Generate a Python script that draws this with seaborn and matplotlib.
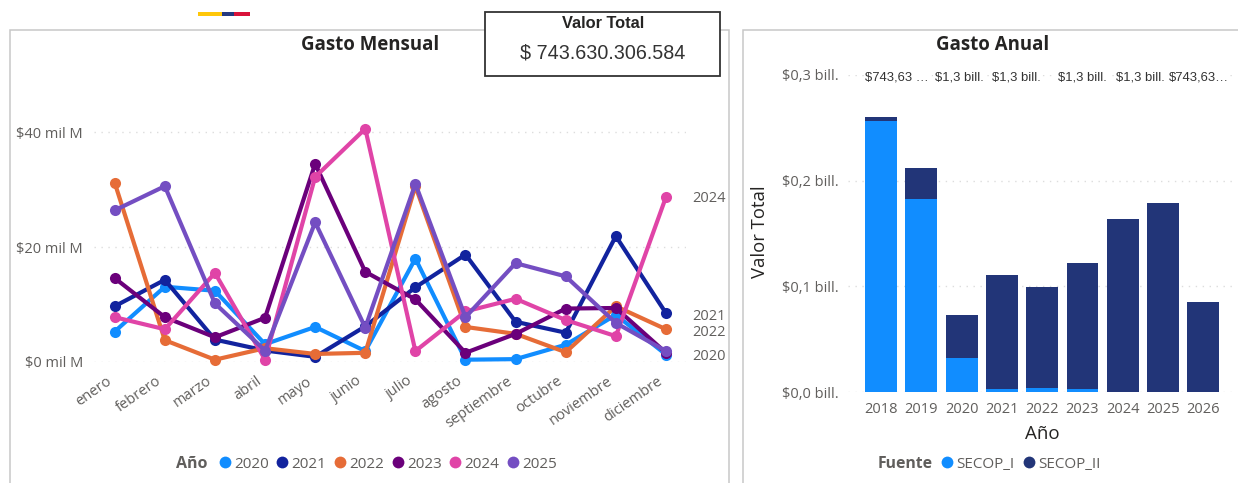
import matplotlib
matplotlib.use("Agg")
import matplotlib.pyplot as plt
from matplotlib.lines import Line2D
from matplotlib.patches import Rectangle
from matplotlib.transforms import ScaledTranslation
import pandas as pd
import seaborn as sns

meses = ['enero', 'febrero', 'marzo', 'abril', 'mayo', 'junio', 'julio', 'agosto',
         'septiembre', 'octubre', 'noviembre', 'diciembre']
gasto_2020 = [5.3, 13.1, 12.4, 3.1, 6.1, 1.9, 18.0, 0.4, 0.5, 3.0, 8.2, 1.3]
gasto_2021 = [9.7, 14.3, 3.9, 2.0, 0.9, 6.2, 13.0, 18.7, 7.0, 5.1, 21.9, 8.5]
gasto_2022 = [31.2, 3.8, 0.4, 2.4, 1.4, 1.6, 30.6, 6.1, 4.9, 1.7, 9.7, 5.7]
gasto_2023 = [14.6, 7.8, 4.3, 7.7, 34.5, 15.7, 10.9, 1.6, 4.9, 9.3, 9.4, 1.6]
gasto_2024 = [7.8, 5.7, 15.5, 0.4, 32.2, 40.6, 1.9, 8.8, 11.0, 7.3, 4.5, 28.7]
gasto_2025 = [26.4, 30.6, 10.2, 2.0, 24.3, 6.0, 31.0, 7.8, 17.2, 14.9, 6.8, 1.9]
anios_linea = ['2020', '2021', '2022', '2023', '2024', '2025']
colores_linea = ['#118DFF', '#12239E', '#E66C37', '#6B007B', '#E044A7', '#744EC2']

anios = ['2018', '2019', '2020', '2021', '2022', '2023', '2024', '2025', '2026']
secop_1 = [0.256, 0.183, 0.032, 0.003, 0.0035, 0.003, 0.0, 0.0, 0.0]
secop_2 = [0.004, 0.029, 0.041, 0.108, 0.0955, 0.119, 0.164, 0.179, 0.085]
etiquetas = ['$743,63 …', '$1,3 bill.', '$1,3 bill.', '$1,3 bill.', '$1,3 bill.', '$743,63…']

W, H = 1238, 483
GRIS = '#605E5C'
sns.set_style("white")
plt.rcParams['font.family'] = ['Open Sans', 'DejaVu Sans']

fig = plt.figure(figsize=(W / 100, H / 100), dpi=100)


def ejes(x0, x1, y0, y1):
    # pixel box, y counted from the top of the picture
    return fig.add_axes([x0 / W, 1 - y1 / H, (x1 - x0) / W, (y1 - y0) / H])


def texto(x, y, s, **kw):
    kw.setdefault('ha', 'center')
    kw.setdefault('va', 'center')
    return fig.text(x / W, 1 - y / H, s, **kw)


def marco(x0, x1, y0, y1, **kw):
    fig.add_artist(Rectangle((x0 / W, 1 - y1 / H), (x1 - x0) / W, (y1 - y0) / H,
                             transform=fig.transFigure, **kw))


def leyenda(handles, labels, x, y, spacing):
    fig.legend(handles, labels, loc='center left', bbox_to_anchor=(x / W, 1 - y / H),
               ncol=len(labels), frameon=False, borderpad=0, borderaxespad=0,
               handlelength=0.9, handletextpad=0.15, columnspacing=spacing,
               fontsize=11, labelcolor=GRIS)


# panels and top decoration
marco(10, 729, 30, 490, fc='none', ec='#C8C8C8', lw=1.1)
marco(743, 1245, 30, 490, fc='none', ec='#C8C8C8', lw=1.1)
marco(198, 222, 12, 16, fc='#FFC709', ec='none')
marco(222, 234, 12, 16, fc='#24397F', ec='none')
marco(234, 250, 12, 16, fc='#D9123A', ec='none')

# monthly lines
ax = ejes(94, 686, 100, 362)
df = pd.DataFrame({'Mes': meses * 6,
                   'Año': [a for a in anios_linea for _ in meses],
                   'Valor': gasto_2020 + gasto_2021 + gasto_2022 + gasto_2023 + gasto_2024 + gasto_2025})
sns.lineplot(data=df, x='Mes', y='Valor', hue='Año', palette=colores_linea, marker='o',
             markersize=8, markeredgewidth=0, linewidth=3, legend=False, ax=ax,
             clip_on=False, sort=False, zorder=3)
ax.set_xlim(-0.413, 11.4)
ax.set_ylim(0, 45.6)
ax.set_yticks([0, 20, 40], ['$0 mil M', '$20 mil M', '$40 mil M'])
ax.set_xticks(range(12))
ax.set_xticklabels(meses, rotation=35, ha='right', rotation_mode='anchor')
ax.tick_params(axis='both', length=0, labelsize=10.5, labelcolor=GRIS, pad=8)
ax.tick_params(axis='x', pad=9)
# month labels sit a little left of their points
for lab in ax.get_xticklabels():
    lab.set_transform(lab.get_transform() + ScaledTranslation(-9 / 100, 1 / 100, fig.dpi_scale_trans))
ax.set_xlabel('')
ax.set_ylabel('')
ax.grid(axis='y', color='#DDDDDD', linestyle=(0, (1, 4)), linewidth=1)
ax.set_axisbelow(True)
sns.despine(ax=ax, left=True, bottom=True)
for s, y in [('2024', 199), ('2021', 316), ('2022', 332), ('2020', 357)]:
    texto(692, y, s, ha='left', fontsize=10.5, color=GRIS)
texto(370, 45, 'Gasto Mensual', fontsize=13.4, fontweight='bold', color='#252423')

texto(192, 464, 'Año', fontsize=11.5, fontweight='bold', color=GRIS)
leyenda([Line2D([], [], ls='', marker='o', ms=8.5, mew=0, color=c) for c in colores_linea],
        anios_linea, 218, 464, 0.44)

# yearly stacked bars
ax2 = ejes(848, 1236, 75, 392)
totales = [a + b for a, b in zip(secop_1, secop_2)]
sns.barplot(x=anios, y=totales, color='#223578', saturation=1, width=0.79, linewidth=0, ax=ax2)
sns.barplot(x=anios, y=secop_1, color='#118DFF', saturation=1, width=0.79, linewidth=0, ax=ax2)
ax2.set_xlim(-0.82, 8.81)
ax2.set_ylim(0, 0.3)
ax2.set_yticks([0, 0.1, 0.2, 0.3], ['$0,0 bill.', '$0,1 bill.', '$0,2 bill.', '$0,3 bill.'])
ax2.tick_params(axis='both', length=0, labelsize=10.5, labelcolor=GRIS, pad=7)
ax2.tick_params(axis='x', pad=7)
ax2.grid(axis='y', color='#DDDDDD', linestyle=(0, (1, 4)), linewidth=1)
ax2.set_axisbelow(True)
sns.despine(ax=ax2, left=True, bottom=True)
texto(760, 232, 'Valor Total', fontsize=13.3, rotation=90, color='#252423')
texto(1042, 434, 'Año', fontsize=13.5, color='#252423')
texto(993, 45, 'Gasto Anual', fontsize=13.4, fontweight='bold', color='#252423')
for x, s in zip([897, 959, 1016, 1082, 1140, 1199], etiquetas):
    texto(x, 77, s, fontsize=9.4, family=['Liberation Sans', 'DejaVu Sans'], color='#333333',
          bbox=dict(fc='white', ec='none', pad=1))

texto(905, 464, 'Fuente', fontsize=11.3, fontweight='bold', color=GRIS)
leyenda([Line2D([], [], ls='', marker='o', ms=8.5, mew=0, color=c) for c in ['#118DFF', '#223578']],
        ['SECOP_I', 'SECOP_II'], 940, 464, 0.55)

# total value card
marco(485, 720, 12, 76, fc='white', ec='#333333', lw=1.3, zorder=5)
texto(603, 23, 'Valor Total', fontsize=11.8, fontweight='bold',
      family=['Liberation Sans', 'DejaVu Sans'], color='#252423', zorder=6)
texto(603, 53, '$ 743.630.306.584', fontsize=14.2,
      family=['Liberation Sans', 'DejaVu Sans'], color='#333333', zorder=6)

fig.savefig('out.png', dpi=100)
